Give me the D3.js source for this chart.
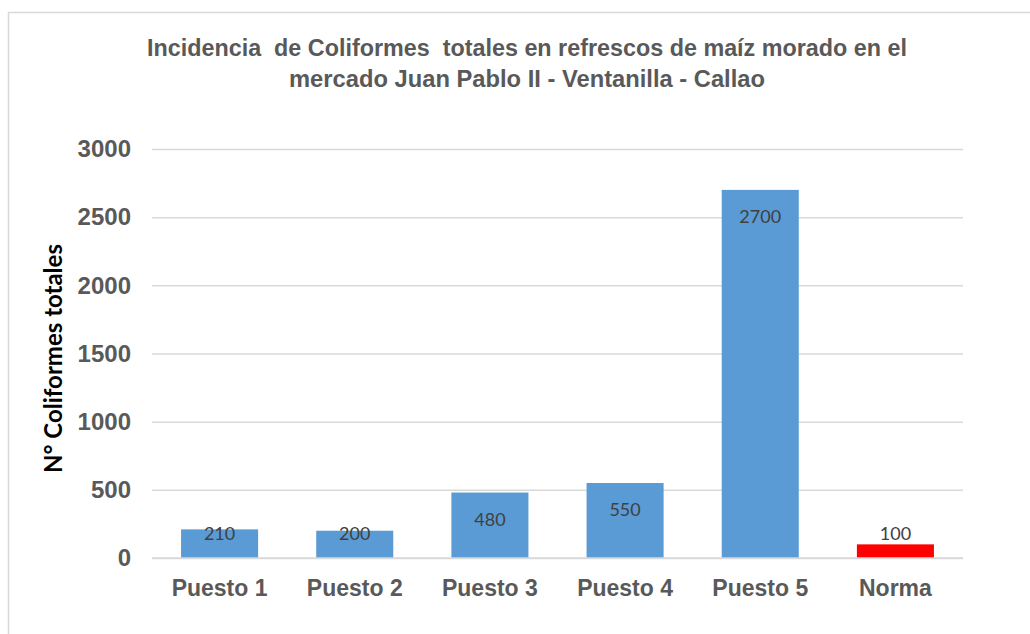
<!DOCTYPE html>
<html>
<head>
<meta charset="utf-8">
<script src="https://cdn.jsdelivr.net/npm/d3@7"></script>
<style>
  html, body { margin: 0; padding: 0; background: #fff; }
  svg { display: block; }
  .title { white-space: pre; }
</style>
</head>
<body>
<svg id="chart" width="1030" height="634"></svg>
<script>
// Coliform counts per market stall, plus the reference norm
const categories = ["Puesto 1", "Puesto 2", "Puesto 3", "Puesto 4", "Puesto 5", "Norma"];
const values = [210, 200, 480, 550, 2700, 100];
const barColors = ["#5b9bd5", "#5b9bd5", "#5b9bd5", "#5b9bd5", "#5b9bd5", "#ff0000"];
const yTicks = [0, 500, 1000, 1500, 2000, 2500, 3000];
const titleLines = [
  "Incidencia  de Coliformes  totales en refrescos de maíz morado en el",
  "mercado Juan Pablo II - Ventanilla - Callao"
];
const titleWidths = [760, 476];
const yTitle = "N° Coliformes totales";

const svg = d3.select("#chart");
const W = 1030, H = 634;

// Chart frame
svg.append("rect")
  .attr("x", 8.5).attr("y", 12.5)
  .attr("width", W).attr("height", H)
  .attr("fill", "#fff")
  .attr("stroke", "#d9d9d9").attr("stroke-width", 1.5);

const plot = { left: 152, right: 963, top: 149, bottom: 558 };

const x = d3.scaleBand()
  .domain(categories)
  .range([plot.left, plot.right])
  .paddingInner(0.43)
  .paddingOuter(0.215);

const y = d3.scaleLinear()
  .domain([0, 3000])
  .range([plot.bottom, plot.top]);

// Title (condensed bold, two lines)
svg.append("g")
  .selectAll("text")
  .data(titleLines)
  .join("text")
  .attr("class", "title")
  .attr("x", 527)
  .attr("y", (d, i) => 56 + i * 31)
  .attr("text-anchor", "middle")
  .attr("font-family", "'Liberation Sans', Arial, sans-serif")
  .attr("font-weight", "bold")
  .attr("font-size", 23)
  .attr("fill", "#595959")
  .attr("textLength", (d, i) => titleWidths[i])
  .attr("lengthAdjust", "spacingAndGlyphs")
  .text(d => d);

// Gridlines
const grid = svg.append("g")
  .call(d3.axisLeft(y).tickValues(yTicks).tickSize(-(plot.right - plot.left)).tickFormat(""))
  .attr("transform", `translate(${plot.left},0)`);
grid.select(".domain").remove();
grid.selectAll(".tick line").attr("stroke", "#d9d9d9").attr("stroke-width", 1.5);

// Y tick labels
const yAxis = svg.append("g")
  .attr("transform", `translate(${plot.left},0)`)
  .call(d3.axisLeft(y).tickValues(yTicks).tickSize(0).tickPadding(21).tickFormat(d3.format("d")));
yAxis.select(".domain").remove();
yAxis.selectAll("text")
  .attr("font-family", "'Liberation Sans', Arial, sans-serif")
  .attr("font-weight", "bold")
  .attr("font-size", 24)
  .attr("fill", "#595959");

// Y axis title
svg.append("text")
  .attr("transform", `translate(62,${(plot.top + plot.bottom) / 2 + 5}) rotate(-90)`)
  .attr("text-anchor", "middle")
  .attr("font-family", "Lato, 'Open Sans', sans-serif")
  .attr("font-weight", "bold")
  .attr("font-size", 24)
  .attr("fill", "#000")
  .text(yTitle);

// Bars
svg.append("g")
  .selectAll("rect")
  .data(values)
  .join("rect")
  .attr("x", (d, i) => x(categories[i]))
  .attr("y", d => y(d))
  .attr("width", x.bandwidth())
  .attr("height", d => y(0) - y(d))
  .attr("fill", (d, i) => barColors[i]);

// Baseline drawn over bars
svg.append("line")
  .attr("x1", plot.left).attr("x2", plot.right)
  .attr("y1", y(0)).attr("y2", y(0))
  .attr("stroke", "#d9d9d9").attr("stroke-width", 1.5);

// Value labels
svg.append("g")
  .selectAll("text")
  .data(values)
  .join("text")
  .attr("x", (d, i) => x(categories[i]) + x.bandwidth() / 2)
  .attr("y", d => Math.min(y(d) + 27, y(0) - 24))
  .attr("dy", "0.35em")
  .attr("text-anchor", "middle")
  .attr("font-family", "Lato, 'Open Sans', sans-serif")
  .attr("font-size", 18)
  .attr("fill", "#404040")
  .text(d => d);

// X axis labels
const xAxis = svg.append("g")
  .attr("transform", `translate(0,${plot.bottom})`)
  .call(d3.axisBottom(x).tickSize(0).tickPadding(22));
xAxis.select(".domain").remove();
xAxis.selectAll("text")
  .attr("font-family", "'Liberation Sans', Arial, sans-serif")
  .attr("font-weight", "bold")
  .attr("font-size", 23)
  .attr("fill", "#595959");
</script>
</body>
</html>
